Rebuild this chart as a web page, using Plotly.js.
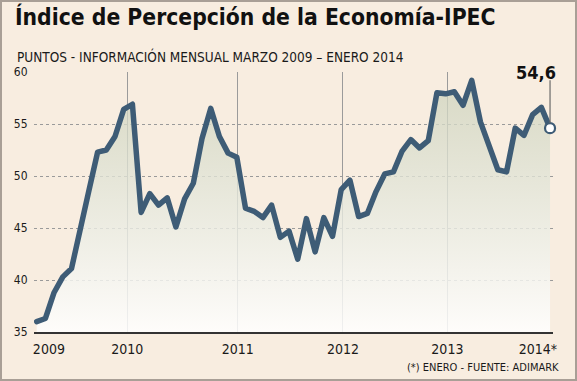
<!DOCTYPE html>
<html>
<head>
<meta charset="utf-8">
<script src="https://cdn.plot.ly/plotly-3.0.1.min.js"></script>
<style>
  html, body { margin: 0; padding: 0; background: #F8EDE0; }
  #wrap { position: relative; width: 577px; height: 381px; }
  #chart { width: 577px; height: 381px; }
  #frame { position: absolute; left: 0; top: 0; width: 577px; height: 381px; box-sizing: border-box; border: 2px solid #A99F96; pointer-events: none; }
  .scatterlayer path.js-line { stroke-linejoin: round; stroke-linecap: round; }
</style>
</head>
<body>
<div id="wrap"><div id="chart"></div><div id="frame"></div></div>
<script>
// Monthly IPEC values (points)
const ipec = [36.0, 36.3, 38.8, 40.3, 41.1, 44.6, 48.6, 52.3, 52.5, 53.8,
              56.4, 56.9, 46.5, 48.3, 47.2, 47.9, 45.1, 47.8, 49.3, 53.6,
              56.5, 53.8, 52.2, 51.8, 46.9, 46.6, 46.0, 47.2, 44.1, 44.7,
              42.0, 45.9, 42.7, 46.0, 44.2, 48.7, 49.6, 46.1, 46.4, 48.5,
              50.2, 50.4, 52.4, 53.5, 52.7, 53.4, 58.0, 57.9, 58.1, 56.8,
              59.2, 55.2, 52.9, 50.6, 50.4, 54.6, 53.9, 55.9, 56.6, 54.6];
const yearTickPos  = [1.4, 10.4, 23.1, 35.2, 47.2, 57.6];
const yearTickText = ['2009', '2010', '2011', '2012', '2013', '2014*'];
const yearGridPos  = [10.4, 23.1, 35.2, 47.2];
const yTicks = [35, 40, 45, 50, 55, 60];
const lastLabel = '54,6';

const monthIdx = ipec.map((_, i) => i);
const lastI = ipec.length - 1;

const FONT = 'DejaVu Sans Condensed, DejaVu Sans, sans-serif';
const LINE = '#3E5C76';

const traces = [
  {
    x: monthIdx, y: ipec, type: 'scatter', mode: 'lines',
    fill: 'tozeroy',
    fillgradient: { type: 'vertical', start: 35, stop: 60,
      colorscale: [[0, 'rgba(255,255,255,0.85)'], [1, 'rgba(204,209,186,0.74)']] },
    line: { color: LINE, width: 5.5 },
    hoverinfo: 'skip', showlegend: false
  },
  {
    x: [monthIdx[lastI]], y: [ipec[lastI]], type: 'scatter', mode: 'markers',
    marker: { size: 10, color: '#ffffff', line: { color: LINE, width: 2.2 } },
    hoverinfo: 'skip', showlegend: false, cliponaxis: false
  },
  {
    x: [], y: [], xaxis: 'x2', type: 'scatter', showlegend: false
  }
];

const layout = {
  width: 577, height: 381,
  margin: { l: 34, r: 24, t: 72, b: 49, pad: 0 },
  paper_bgcolor: '#F8EDE0', plot_bgcolor: 'rgba(0,0,0,0)',
  font: { family: FONT, color: '#1a1a1a' },
  title: {
    text: 'Índice de Percepción de la Economía-IPEC',
    font: { family: FONT, size: 22.7, color: '#111111', weight: 'bold' },
    xref: 'container', yref: 'container', x: 15 / 577, xanchor: 'left',
    y: 1 - 9 / 381, yanchor: 'top'
  },
  xaxis: {
    range: [-0.31, 59.34], showgrid: false, zeroline: false,
    tickmode: 'array', tickvals: yearTickPos, ticktext: yearTickText,
    ticks: 'outside', ticklen: 3, tickcolor: 'rgba(0,0,0,0)',
    tickfont: { family: FONT, size: 14, color: '#1a1a1a' },
    showline: true, linecolor: '#333333', linewidth: 2, fixedrange: true
  },
  xaxis2: {
    overlaying: 'x', range: [-0.31, 59.34], showgrid: true,
    gridcolor: '#9b9b9b', gridwidth: 1, zeroline: false,
    tickmode: 'array', tickvals: yearGridPos, showticklabels: false,
    ticks: '', showline: false
  },
  yaxis: {
    range: [35, 60], tickmode: 'array', tickvals: yTicks,
    showgrid: true, gridcolor: '#9a9a9a', gridwidth: 1, griddash: '3px,3px',
    zeroline: false, showline: false,
    ticks: 'outside', ticklen: 3, tickcolor: 'rgba(0,0,0,0)',
    tickfont: { family: FONT, size: 12, color: '#1a1a1a' }, fixedrange: true
  },
  shapes: [
    {
      type: 'line', xref: 'x', x0: monthIdx[lastI], x1: monthIdx[lastI],
      yref: 'y', ysizemode: 'pixel', yanchor: ipec[lastI], y0: 5, y1: 48,
      line: { color: '#6a6a6a', width: 1.2 }, layer: 'above'
    }
  ],
  annotations: [
    {
      text: 'PUNTOS - INFORMACIÓN MENSUAL MARZO 2009 – ENERO 2014',
      xref: 'paper', yref: 'paper', x: (15 - 34) / 519, y: (332 - 57.5) / 259,
      xanchor: 'left', yanchor: 'middle', showarrow: false,
      font: { family: FONT, size: 13.5, color: '#1a1a1a' }
    },
    {
      text: '(*) ENERO - FUENTE: ADIMARK',
      xref: 'paper', yref: 'paper', x: (561 - 34) / 519, y: (332 - 367) / 259,
      xanchor: 'right', yanchor: 'middle', showarrow: false,
      font: { family: FONT, size: 11, color: '#1a1a1a' }
    },
    {
      text: lastLabel, x: monthIdx[lastI], y: ipec[lastI], xref: 'x', yref: 'y',
      showarrow: false, xshift: -14, yshift: 56,
      font: { family: FONT, size: 18, color: '#111111', weight: 'bold' }
    }
  ]
};

Plotly.newPlot('chart', traces, layout, { staticPlot: true, displayModeBar: false });
</script>
</body>
</html>
